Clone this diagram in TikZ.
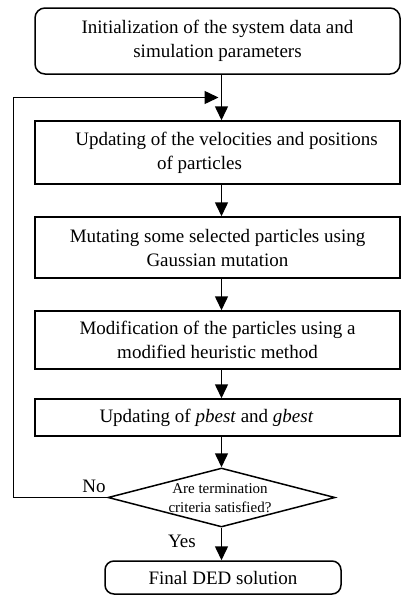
\documentclass[tikz,border=0pt]{standalone}
\usepackage{fontspec}
\setmainfont{Liberation Serif}
\usetikzlibrary{arrows.meta,shapes.geometric}
\begin{document}
\begin{tikzpicture}[x=1pt,y=-1pt,
  box/.style={draw, line width=1.5pt, minimum width=365pt, align=center,
    font=\fontsize{19}{24}\selectfont, inner sep=0pt},
  endbox/.style={draw, line width=1.5pt, rounded corners=9pt, align=center,
    font=\fontsize{19}{24}\selectfont, inner sep=0pt},
  decbox/.style={draw, diamond, line width=1.5pt, minimum width=227pt,
    minimum height=59pt, inner sep=0pt},
  dectext/.style={align=center, font=\fontsize{15}{19}\selectfont, inner sep=0pt},
  lbl/.style={font=\fontsize{19}{24}\selectfont, inner sep=0pt},
  arr/.style={line width=1.5pt, -{Triangle[length=14pt,width=13pt]}},
  line/.style={line width=1.5pt}]
\useasboundingbox (0,0) rectangle (401,598);

\node[box, rounded corners=10pt, minimum height=66pt] (init) at (217.5,41)
  {Initialization of the system data and\\simulation parameters};
\node[box, minimum height=63pt] (upd) at (217.5,152.5)
  {\hspace*{18pt}Updating of the velocities and positions\\of particles\hspace*{36pt}};
\node[box, minimum height=61pt] (mut) at (217.5,247.5)
  {Mutating some selected particles using\\Gaussian mutation};
\node[box, minimum height=58pt] (mod) at (217.5,340)
  {Modification of the particles using a\\modified heuristic method};
\node[box, minimum height=37pt] (best) at (217.5,417.5)
  {Updating of \textit{pbest} and \textit{gbest}\hspace*{22pt}};
\node[decbox] (dec) at (221.5,497.5) {};
\node[dectext] (dect) at (220,498) {Are termination\\criteria satisfied?};
\node[endbox, minimum width=236pt, minimum height=33pt] (final) at (223,577.5)
  {Final DED solution};

\coordinate (lp) at (dec.north |- 0,97.5);

\draw[arr] (init.south -| dec.north) -- (upd.north -| dec.north);
\draw[arr] (upd.south -| dec.north) -- (mut.north -| dec.north);
\draw[arr] (mut.south -| dec.north) -- (mod.north -| dec.north);
\draw[arr] (mod.south -| dec.north) -- (best.north -| dec.north);
\draw[arr] (best.south -| dec.north) -- (dec.north);
\draw[arr] (dec.south) -- (final.north -| dec.south);
\draw[arr] (dec.west) -- ++(-94,0) |- ([xshift=-3pt]lp);

\node[lbl] (no) at (94,486) {No};
\node[lbl] (yes) at (182,541) {Yes};
\end{tikzpicture}
\end{document}
